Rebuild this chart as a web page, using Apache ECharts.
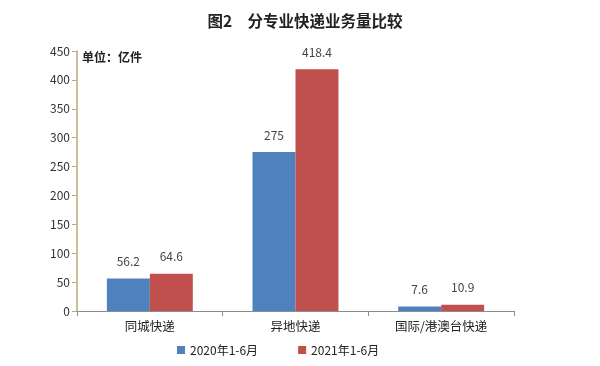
<!DOCTYPE html>
<html><head><meta charset="utf-8">
<script src="https://cdn.jsdelivr.net/npm/echarts@6/dist/echarts.min.js"></script>
<style>html,body{margin:0;padding:0;background:#fff}#c{width:600px;height:366px}</style>
</head><body><div id="c"></div>
<script>
const categories = ['同城快递', '异地快递', '国际/港澳台快递'];
const seriesNames = ['2020年1-6月', '2021年1-6月'];
const values2020 = [56.2, 275, 7.6];
const values2021 = [64.6, 418.4, 10.9];
const yTicks = [0, 50, 100, 150, 200, 250, 300, 350, 400, 450];

const font = '"Noto Sans CJK SC", "Microsoft YaHei", sans-serif';
const chart = echarts.init(document.getElementById('c'));
const labelStyle = { show: true, position: 'top', distance: 11, color: '#444', fontSize: 12, fontFamily: font };
chart.setOption({
  animation: false,
  title: { text: '图2　分专业快递业务量比较', left: 300, top: 8, textAlign: 'center',
    textStyle: { fontSize: 15.5, fontWeight: 'bold', color: '#222', fontFamily: font } },
  graphic: [{ type: 'text', left: 82, top: 51, style: { text: '单位：亿件', fill: '#222', font: 'bold 12px ' + font } }],
  legend: { bottom: 5, left: 172, itemWidth: 8, itemHeight: 8, itemGap: 40, icon: 'rect',
    textStyle: { fontSize: 12, color: '#222', fontFamily: font }, data: seriesNames },
  grid: { left: 77, right: 86, top: 51, bottom: 55 },
  xAxis: { type: 'category', data: categories,
    axisLine: { lineStyle: { color: '#8c8c8c', width: 1 } },
    axisTick: { show: true, length: 5, alignWithLabel: false, lineStyle: { color: '#8c8c8c' } },
    axisLabel: { fontSize: 12.5, color: '#222', margin: 9, fontFamily: font } },
  yAxis: { type: 'value', min: yTicks[0], max: yTicks[yTicks.length - 1], interval: yTicks[1] - yTicks[0],
    axisLine: { show: true, lineStyle: { color: '#b9a97a', width: 1.5 } },
    axisTick: { show: true, length: 5, lineStyle: { color: '#b9a97a' } },
    splitLine: { show: false },
    axisLabel: { fontSize: 12, color: '#333', margin: 7, fontFamily: font } },
  series: [
    { name: seriesNames[0], type: 'bar', data: values2020, barWidth: '29.5%', barGap: '0%',
      itemStyle: { color: '#4f81bd' }, label: labelStyle },
    { name: seriesNames[1], type: 'bar', data: values2021, barWidth: '29.5%',
      itemStyle: { color: '#c0504d' }, label: labelStyle }
  ]
});
</script></body></html>
